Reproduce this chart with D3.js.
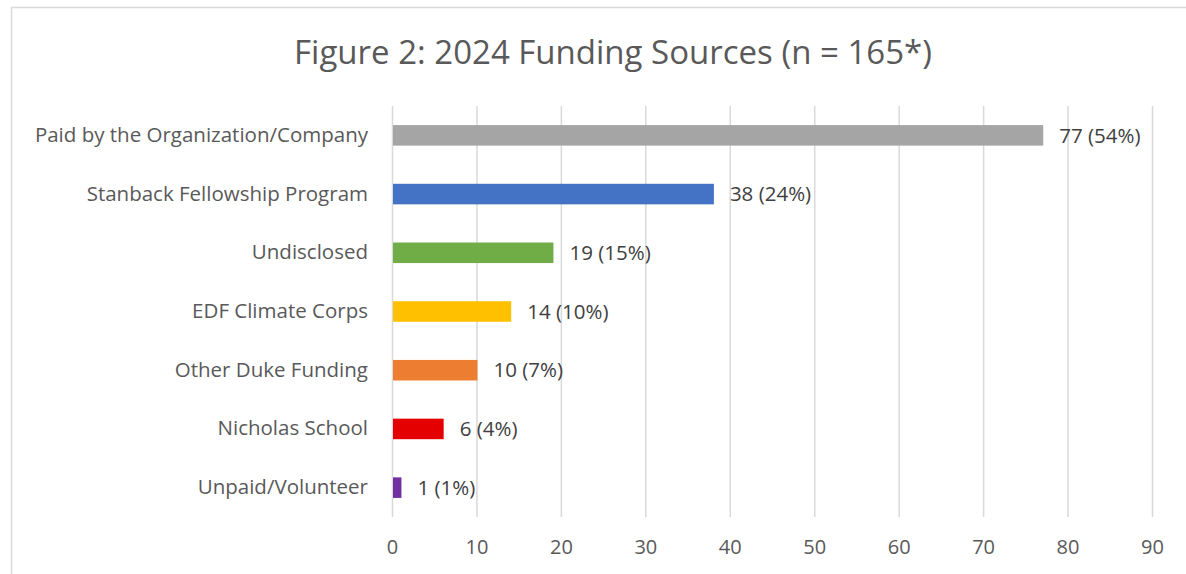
<!DOCTYPE html>
<html>
<head>
<meta charset="utf-8">
<script src="https://cdn.jsdelivr.net/npm/d3@7"></script>
<style>
  body { margin: 0; background: #fff; }
  svg { display: block; font-family: "Open Sans", sans-serif; }
</style>
</head>
<body>
<svg id="chart"></svg>
<script>
// data
var categories = [
  "Paid by the Organization/Company",
  "Stanback Fellowship Program",
  "Undisclosed",
  "EDF Climate Corps",
  "Other Duke Funding",
  "Nicholas School",
  "Unpaid/Volunteer"
];
var counts = [77, 38, 19, 14, 10, 6, 1];
var percents = ["54%", "24%", "15%", "10%", "7%", "4%", "1%"];
var barColors = ["#a5a5a5", "#4472c4", "#70ad47", "#ffc000", "#ed7d31", "#e50000", "#7030a0"];
var xTicks = [0, 10, 20, 30, 40, 50, 60, 70, 80, 90];

var width = 1186, height = 574;
var margin = { top: 106, right: 34, bottom: 57, left: 392 };
var innerW = width - margin.left - margin.right;
var innerH = height - margin.top - margin.bottom;

var svg = d3.select("#chart")
  .attr("width", width)
  .attr("height", height);

// chart frame (cropped on the right and bottom)
svg.append("rect")
  .attr("x", 11.5).attr("y", 7.5)
  .attr("width", width + 20).attr("height", height + 20)
  .attr("fill", "none")
  .attr("stroke", "#d9d9d9")
  .attr("stroke-width", 1.5);

svg.append("text")
  .attr("x", 613).attr("y", 64)
  .attr("text-anchor", "middle")
  .attr("font-size", 33)
  .attr("fill", "#595959")
  .text("Figure 2: 2024 Funding Sources (n = 165*)");

var g = svg.append("g")
  .attr("transform", `translate(${margin.left},${margin.top})`);

var xScale = d3.scaleLinear()
  .domain([0, 90])
  .range([0, innerW]);

var yScale = d3.scaleBand()
  .domain(categories)
  .range([0, innerH])
  .paddingInner(0.65)
  .paddingOuter(0.325);

// gridlines + tick labels
var xAxis = g.append("g")
  .attr("transform", `translate(0,${innerH})`)
  .call(d3.axisBottom(xScale)
    .tickValues(xTicks)
    .tickSize(-innerH)
    .tickPadding(23))
  .call(a => a.select(".domain").remove());

xAxis.selectAll(".tick line")
  .attr("stroke", "#d9d9d9")
  .attr("stroke-width", 1.5);

xAxis.selectAll("text")
  .attr("font-size", 20)
  .attr("font-family", "Open Sans, sans-serif")
  .attr("fill", "#595959");

var rows = categories.map((c, i) => ({ cat: c, value: counts[i], pct: percents[i], color: barColors[i] }));

g.selectAll("rect.bar")
  .data(rows)
  .enter()
  .append("rect")
  .attr("class", "bar")
  .attr("x", xScale(0) + 1)
  .attr("y", d => yScale(d.cat))
  .attr("width", d => xScale(d.value) - xScale(0))
  .attr("height", yScale.bandwidth())
  .attr("fill", d => d.color);

// value labels
g.selectAll("text.val")
  .data(rows)
  .enter()
  .append("text")
  .attr("class", "val")
  .attr("x", d => xScale(d.value) + 17)
  .attr("y", d => yScale(d.cat) + yScale.bandwidth() / 2)
  .attr("dy", "0.35em")
  .attr("font-size", 20.5)
  .attr("fill", "#404040")
  .text(d => `${d.value} (${d.pct})`);

// category labels
var yAxis = g.append("g")
  .call(d3.axisLeft(yScale).tickSize(0).tickPadding(24))
  .call(a => a.select(".domain").remove());

yAxis.selectAll("text")
  .attr("font-size", 20.5)
  .attr("font-family", "Open Sans, sans-serif")
  .attr("fill", "#595959");
</script>
</body>
</html>
